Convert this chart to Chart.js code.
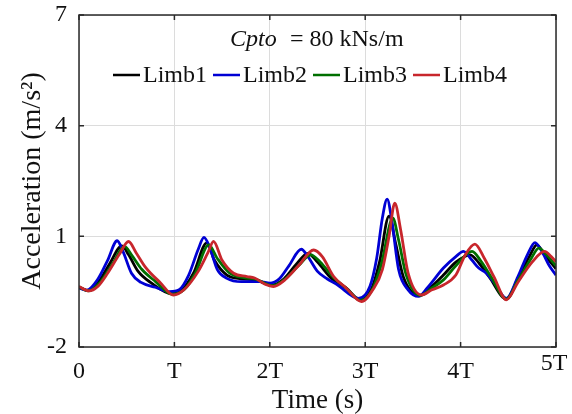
<!DOCTYPE html>
<html>
<head>
    <title>Limb acceleration</title>
    <script src="https://cdn.jsdelivr.net/npm/chart.js@4.4.0/dist/chart.umd.min.js"></script>
    <style>
        body { margin: 0; background: #fff; }
    </style>
</head>
<body>
<canvas id="canvas" width="572" height="414"></canvas>
<script>
    var limbLabels = ['Limb1', 'Limb2', 'Limb3', 'Limb4'];
    var limbColors = ['#000000', '#0000d4', '#006f00', '#c8262c'];
    var xTickLabels = ['0', 'T', '2T', '3T', '4T', '5T'];
    var yTicks = [-2, 1, 4, 7];

    // time in periods T, acceleration in m/s^2
    var limb1Time = [0, 0.09, 0.2, 0.32, 0.45, 0.52, 0.62, 0.75, 0.97, 1.08, 1.2, 1.34, 1.42, 1.55, 1.7, 1.85, 2.02, 2.15, 2.28, 2.4, 2.5, 2.65, 2.8, 2.95, 3.07, 3.15, 3.25, 3.32, 3.4, 3.57, 3.68, 3.82, 3.95, 4.1, 4.2, 4.3, 4.48, 4.6, 4.72, 4.8, 4.88, 5];
    var limb1Acc  = [-0.38, -0.47, -0.25, 0.25, 0.74, 0.5, 0.05, -0.25, -0.55, -0.45, 0, 0.82, 0.35, -0.05, -0.15, -0.18, -0.32, -0.15, 0.25, 0.54, 0.3, -0.15, -0.4, -0.72, -0.4, 0.3, 1.55, 0.8, -0.1, -0.6, -0.4, -0.05, 0.3, 0.5, 0.25, -0.1, -0.7, -0.15, 0.45, 0.77, 0.5, 0.12];

    var limb2Time = [0, 0.08, 0.2, 0.3, 0.4, 0.46, 0.55, 0.65, 0.8, 0.95, 1.05, 1.15, 1.25, 1.31, 1.37, 1.45, 1.55, 1.7, 1.9, 2, 2.1, 2.2, 2.33, 2.4, 2.5, 2.6, 2.7, 2.93, 3.05, 3.12, 3.18, 3.23, 3.28, 3.35, 3.45, 3.56, 3.65, 3.82, 3.95, 4.03, 4.12, 4.19, 4.27, 4.35, 4.48, 4.6, 4.7, 4.78, 4.85, 4.93, 5];
    var limb2Acc  = [-0.4, -0.46, -0.15, 0.35, 0.88, 0.6, 0, -0.25, -0.38, -0.5, -0.45, -0.05, 0.65, 0.97, 0.7, 0.1, -0.14, -0.23, -0.23, -0.27, -0.15, 0.2, 0.65, 0.45, 0.05, -0.15, -0.3, -0.68, -0.35, 0.4, 1.5, 2.01, 1.4, 0.1, -0.45, -0.63, -0.4, 0.14, 0.45, 0.59, 0.35, 0.14, 0, -0.25, -0.68, -0.1, 0.5, 0.83, 0.6, 0.2, -0.05];

    var limb3Time = [0, 0.1, 0.22, 0.35, 0.48, 0.55, 0.66, 0.8, 0.98, 1.1, 1.22, 1.36, 1.45, 1.58, 1.73, 1.85, 2.03, 2.15, 2.3, 2.43, 2.53, 2.67, 2.8, 2.95, 3.08, 3.17, 3.29, 3.35, 3.43, 3.58, 3.7, 3.82, 3.95, 4.12, 4.22, 4.32, 4.48, 4.6, 4.74, 4.82, 4.9, 5];
    var limb3Acc  = [-0.37, -0.48, -0.25, 0.25, 0.72, 0.5, 0.1, -0.22, -0.57, -0.45, 0, 0.77, 0.4, 0, -0.12, -0.16, -0.34, -0.18, 0.2, 0.5, 0.3, -0.12, -0.4, -0.74, -0.42, 0.25, 1.49, 0.9, -0.05, -0.6, -0.4, -0.18, 0.2, 0.59, 0.3, -0.1, -0.7, -0.2, 0.4, 0.68, 0.5, 0.2];

    var limb4Time = [0, 0.1, 0.2, 0.3, 0.42, 0.52, 0.6, 0.7, 0.85, 0.99, 1.1, 1.25, 1.35, 1.41, 1.5, 1.62, 1.76, 1.84, 1.95, 2.04, 2.15, 2.3, 2.46, 2.55, 2.67, 2.8, 2.96, 3.08, 3.18, 3.25, 3.31, 3.37, 3.45, 3.59, 3.7, 3.82, 3.95, 4.05, 4.15, 4.25, 4.35, 4.48, 4.6, 4.75, 4.88, 4.95, 5];
    var limb4Acc  = [-0.36, -0.48, -0.35, 0, 0.5, 0.86, 0.55, 0.15, -0.25, -0.59, -0.45, 0.05, 0.55, 0.86, 0.35, 0, -0.09, -0.13, -0.3, -0.36, -0.2, 0.2, 0.63, 0.45, -0.09, -0.4, -0.77, -0.45, 0.1, 1, 1.9, 1.2, 0, -0.59, -0.45, -0.32, -0.05, 0.5, 0.79, 0.4, -0.1, -0.72, -0.25, 0.3, 0.59, 0.45, 0.31];

    var allTimes = [limb1Time, limb2Time, limb3Time, limb4Time];
    var allAcc = [limb1Acc, limb2Acc, limb3Acc, limb4Acc];

    function toPoints(t, a) {
        var pts = [];
        for (var i = 0; i < t.length; i++) pts.push({ x: t[i], y: a[i] });
        return pts;
    }

    var datasets = [];
    for (var k = 0; k < 4; k++) {
        datasets.push({
            label: limbLabels[k],
            data: toPoints(allTimes[k], allAcc[k]),
            borderColor: limbColors[k],
            borderWidth: 2.8,
            pointRadius: 0,
            fill: false,
            cubicInterpolationMode: 'monotone',
            order: 4 - k
        });
    }

    var serif = '"Liberation Serif", "Times New Roman", serif';
    Chart.defaults.font.family = serif;
    Chart.defaults.color = '#111';

    function noOverhang(scale) {
        scale.paddingTop = 0;
        scale.paddingBottom = 0;
        scale.paddingLeft = 0;
        scale.paddingRight = 0;
    }

    // box, inward ticks, annotation and legend inside the plot
    var boxPlugin = {
        id: 'box',
        afterDraw: function(chart) {
            var ctx = chart.ctx, a = chart.chartArea;
            var xs = chart.scales.x, ys = chart.scales.y;
            ctx.save();
            ctx.strokeStyle = '#2a2a2a';
            ctx.lineWidth = 1.5;
            ctx.strokeRect(a.left, a.top, a.right - a.left, a.bottom - a.top);
            ctx.beginPath();
            for (var i = 0; i < xTickLabels.length; i++) {
                var px = xs.getPixelForValue(i);
                ctx.moveTo(px, a.bottom); ctx.lineTo(px, a.bottom - 5);
                ctx.moveTo(px, a.top); ctx.lineTo(px, a.top + 5);
            }
            yTicks.forEach(function(v) {
                var py = ys.getPixelForValue(v);
                ctx.moveTo(a.left, py); ctx.lineTo(a.left + 5, py);
                ctx.moveTo(a.right, py); ctx.lineTo(a.right - 5, py);
            });
            ctx.stroke();

            ctx.fillStyle = '#111';
            ctx.textBaseline = 'middle';
            ctx.font = 'italic 24px ' + serif;
            ctx.fillText('Cpto', 230, 40);
            ctx.font = '24px ' + serif;
            ctx.fillText('= 80 kNs/m', 290, 40);

            // last x label sits a little higher in the original
            ctx.textAlign = 'center';
            ctx.fillText(xTickLabels[5], xs.getPixelForValue(5) - 2, a.bottom + 17);
            ctx.textAlign = 'left';

            var x = 113, y = 75;
            chart.data.datasets.forEach(function(ds) {
                ctx.strokeStyle = ds.borderColor;
                ctx.lineWidth = 2.5;
                ctx.beginPath();
                ctx.moveTo(x, y); ctx.lineTo(x + 27, y);
                ctx.stroke();
                ctx.fillText(ds.label, x + 30, y + 1);
                x += 100;
            });
            ctx.restore();
        }
    };

    var context = document.getElementById('canvas').getContext('2d');
    var myChart = new Chart(context, {
        type: 'line',
        data: { datasets: datasets },
        options: {
            responsive: false,
            animation: false,
            layout: { padding: { top: 15, right: 16, left: 0, bottom: 0 } },
            plugins: { legend: { display: false }, tooltip: { enabled: false } },
            scales: {
                x: {
                    type: 'linear',
                    min: 0,
                    max: 5,
                    afterFit: function(scale) { scale.height = 67; noOverhang(scale); },
                    ticks: {
                        stepSize: 1,
                        maxRotation: 0,
                        padding: 10,
                        font: { size: 24 },
                        callback: function(v) { return v === 5 ? '' : xTickLabels[v]; }
                    },
                    grid: { color: '#dcdcdc', drawTicks: false },
                    border: { display: false },
                    title: { display: true, text: 'Time (s)', font: { size: 27, lineHeight: 1 }, padding: 0 }
                },
                y: {
                    min: -2,
                    max: 7,
                    afterFit: function(scale) { scale.width = 79; noOverhang(scale); },
                    ticks: { stepSize: 3, padding: 12, font: { size: 24 } },
                    grid: { color: '#dcdcdc', drawTicks: false },
                    border: { display: false },
                    title: { display: true, text: 'Acceleration (m/s²)', font: { size: 28, lineHeight: 1 }, padding: { top: 19, bottom: 0 } }
                }
            }
        },
        plugins: [boxPlugin]
    });
</script>
</body>
</html>
